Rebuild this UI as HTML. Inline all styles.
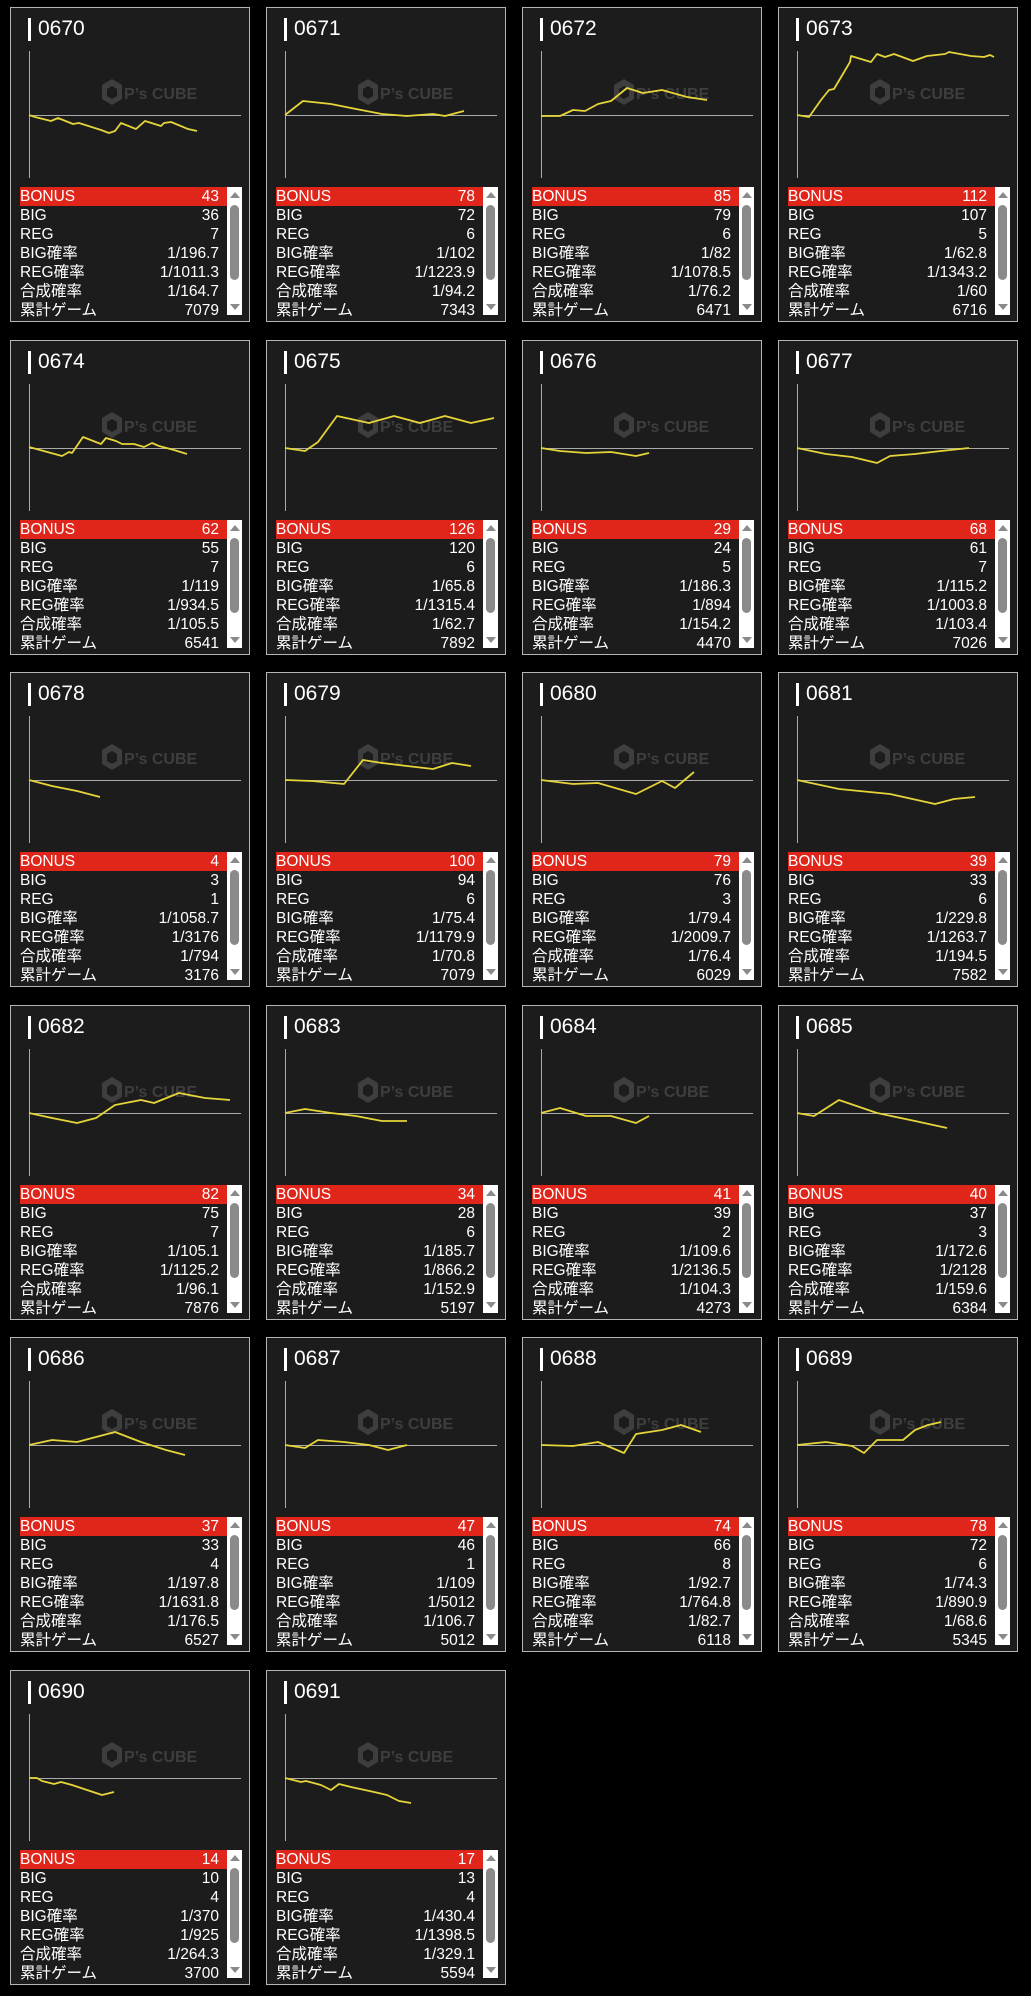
<!DOCTYPE html>
<html><head><meta charset="utf-8">
<style>
body{margin:0;background:#000;width:1031px;height:1996px;position:relative;overflow:hidden;font-family:"Liberation Sans","Noto Sans CJK JP",sans-serif;color:#fff}
.card{position:absolute;width:238px;height:313px;border:1px solid #b4b4b4;background:#1c1c1c}
.bar{position:absolute;left:17px;top:10px;width:3px;height:23px;background:#fff}
.ttl{position:absolute;left:27px;top:9px;font-size:21px;line-height:24px}
svg{position:absolute;left:0;top:0}
.tbl{position:absolute;left:9px;top:179px;width:207px}
.row{height:19px;line-height:19px;font-size:15.5px;display:flex;justify-content:space-between;padding-right:8px}
.row.b{background:#e0251b}
.sb{position:absolute;left:216px;top:179px;width:15px;height:128px;background:#fff}
.th{position:absolute;left:3px;top:18px;width:9px;height:75px;background:#8a8a8a;border-radius:5px}
.up,.dn{position:absolute;left:3px;width:0;height:0;border-left:5px solid transparent;border-right:5px solid transparent}
.up{top:5px;border-bottom:6px solid #8a8a8a}
.dn{bottom:5px;border-top:6px solid #8a8a8a}
</style></head><body>
<script>
var D=[
["0670",43,36,7,"1/196.7","1/1011.3","1/164.7",7079,[[0,0],[6,2],[22,6],[29,3],[44,9],[50,8],[72,15],[80,18],[86,16],[92,8],[107,14],[116,6],[132,11],[135,8],[142,7],[159,14],[168,16]]],
["0671",78,72,6,"1/102","1/1223.9","1/94.2",7343,[[0,0],[18,-14],[46,-11],[71,-6],[97,-1],[122,1],[148,-1],[160,1],[179,-4]]],
["0672",85,79,6,"1/82","1/1078.5","1/76.2",6471,[[0,1],[19,1],[32,-5],[44,-4],[57,-11],[70,-14],[86,-27],[102,-22],[121,-25],[146,-18],[166,-15]]],
["0673",112,107,5,"1/62.8","1/1343.2","1/60",6716,[[0,0],[12,2],[24,-15],[32,-25],[37,-26],[53,-53],[54,-59],[74,-53],[80,-61],[88,-58],[97,-61],[116,-54],[130,-59],[148,-61],[152,-63],[174,-59],[187,-58],[193,-60],[197,-58]]],
["0674",62,55,7,"1/119","1/934.5","1/105.5",6541,[[0,-1],[22,5],[33,8],[40,4],[43,5],[54,-11],[72,-4],[77,-10],[87,-7],[93,-4],[105,-4],[115,-1],[123,-5],[130,-2],[145,2],[158,6]]],
["0675",126,120,6,"1/65.8","1/1315.4","1/62.7",7892,[[0,0],[20,3],[33,-6],[52,-32],[84,-25],[109,-32],[135,-25],[160,-32],[186,-25],[209,-30]]],
["0676",29,24,5,"1/186.3","1/894","1/154.2",4470,[[0,0],[19,3],[45,5],[70,4],[95,8],[108,5]]],
["0677",68,61,7,"1/115.2","1/1003.8","1/103.4",7026,[[0,0],[29,6],[55,9],[80,15],[93,8],[118,6],[144,3],[172,0]]],
["0678",4,3,1,"1/1058.7","1/3176","1/794",3176,[[0,0],[23,6],[48,11],[71,17]]],
["0679",100,94,6,"1/75.4","1/1179.9","1/70.8",7079,[[0,0],[27,1],[59,4],[78,-20],[97,-17],[122,-14],[148,-11],[167,-17],[186,-14]]],
["0680",79,76,3,"1/79.4","1/2009.7","1/76.4",6029,[[0,0],[32,4],[57,3],[95,14],[121,1],[134,8],[153,-8]]],
["0681",39,33,6,"1/229.8","1/1263.7","1/194.5",7582,[[0,0],[42,9],[93,14],[138,24],[157,19],[178,17]]],
["0682",82,75,7,"1/105.1","1/1125.2","1/96.1",7876,[[0,0],[23,5],[48,10],[67,5],[86,-8],[112,-13],[125,-10],[150,-20],[176,-15],[201,-13]]],
["0683",34,28,6,"1/185.7","1/866.2","1/152.9",5197,[[0,0],[20,-4],[46,0],[71,3],[97,8],[122,8]]],
["0684",41,39,2,"1/109.6","1/2136.5","1/104.3",4273,[[0,0],[19,-5],[45,3],[70,3],[95,10],[108,3]]],
["0685",40,37,3,"1/172.6","1/2128","1/159.6",6384,[[0,0],[17,3],[42,-13],[80,0],[118,8],[150,15]]],
["0686",37,33,4,"1/197.8","1/1631.8","1/176.5",6527,[[0,0],[23,-5],[48,-3],[67,-8],[86,-13],[112,-3],[137,5],[156,10]]],
["0687",47,46,1,"1/109","1/5012","1/106.7",5012,[[0,0],[20,3],[33,-5],[59,-3],[84,0],[103,5],[122,0]]],
["0688",74,66,8,"1/92.7","1/764.8","1/82.7",6118,[[0,0],[32,1],[57,-3],[83,8],[95,-11],[121,-15],[140,-20],[160,-13]]],
["0689",78,72,6,"1/74.3","1/890.9","1/68.6",5345,[[0,0],[29,-3],[55,1],[67,8],[80,-5],[106,-5],[118,-15],[131,-20],[144,-23]]],
["0690",14,10,4,"1/370","1/925","1/264.3",3700,[[0,0],[8,0],[13,3],[25,6],[32,4],[43,7],[58,12],[73,17],[85,14]]],
["0691",17,13,4,"1/430.4","1/1398.5","1/329.1",5594,[[0,0],[16,4],[21,3],[36,7],[46,12],[54,6],[66,9],[89,14],[102,17],[114,23],[126,25]]]
];
var h="";
D.forEach(function(d,i){
 var c=i%4,r=Math.floor(i/4);
 var L=10+256*c,T=Math.round(7+332.5*r);
 var pts=d[8].map(function(p){return (18+p[0])+","+(107+p[1]);}).join(" ");
 var labs=["BONUS","BIG","REG","BIG確率","REG確率","合成確率","累計ゲーム"];
 var vals=[d[1],d[2],d[3],d[4],d[5],d[6],d[7]];
 var rows="";
 for(var k=0;k<7;k++)rows+='<div class="row'+(k==0?' b':'')+'"><span>'+labs[k]+'</span><span>'+vals[k]+'</span></div>';
 h+='<div class="card" style="left:'+L+'px;top:'+T+'px"><div class="bar"></div><div class="ttl">'+d[0]+'</div>'+
 '<svg width="238" height="178"><g fill="#3e3e3e"><polygon points="91,77 101,71 111,77 111,91 101,97 91,91"/></g>'+
 '<polygon points="96,81 101,78 106,81 106,88 101,91 96,88" fill="#1c1c1c"/>'+
 '<text x="113" y="91" font-family="Liberation Sans,sans-serif" font-weight="bold" font-size="16" fill="#3e3e3e">P’s CUBE</text>'+
 '<line x1="18.5" y1="43" x2="18.5" y2="170" stroke="#aaa"/><line x1="18" y1="107.5" x2="230" y2="107.5" stroke="#aaa"/>'+
 '<polyline points="'+pts+'" fill="none" stroke="#e6d53a" stroke-width="1.8" stroke-linejoin="round"/></svg>'+
 '<div class="tbl">'+rows+'</div><div class="sb"><div class="up"></div><div class="th"></div><div class="dn"></div></div></div>';
});
document.write(h);
</script>
</body></html>
